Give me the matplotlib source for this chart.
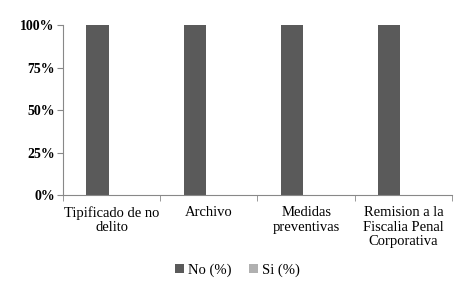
import matplotlib.pyplot as plt
import numpy as np

plt.rcParams['font.family'] = ['Liberation Serif', 'DejaVu Serif']

categories = ['Tipificado de no\ndelito', 'Archivo', 'Medidas\npreventivas',
              'Remision a la\nFiscalia Penal\nCorporativa']
no_pct = [100, 100, 100, 100]
si_pct = [0, 0, 0, 0]

fig = plt.figure(figsize=(4.75, 2.86), dpi=100)
ax = fig.add_axes([0.1326, 0.318, 0.819, 0.5946])

ind = np.arange(len(categories))
width = 0.23
off = 0.145
ax.bar(ind - off, no_pct, width, color='#5a5a5a', label='No (%)')
ax.bar(ind + off, si_pct, width, color='#b0b0b0', label='Si (%)')

ax.set_xlim(-0.5, len(categories) - 0.5)
ax.set_ylim(0, 100)
ax.set_yticks([0, 25, 50, 75, 100])
ax.set_yticklabels(['0%', '25%', '50%', '75%', '100%'], fontsize=10, fontweight='bold')
ax.set_xticks(ind)
ax.set_xticklabels(categories, fontsize=10.5, linespacing=1.15)
ax.set_xticks(np.arange(len(categories) + 1) - 0.5, minor=True)
ax.tick_params(axis='x', which='major', length=0, pad=8)
ax.tick_params(axis='x', which='minor', length=4, color='#888888', direction='out')
ax.tick_params(axis='y', length=4, color='#888888', direction='out', pad=2)

for s in ['top', 'right']:
    ax.spines[s].set_visible(False)
for s in ['left', 'bottom']:
    ax.spines[s].set_color('#888888')

fig.legend(loc='center', bbox_to_anchor=(0.5, 0.056), ncol=2, frameon=False,
           fontsize=10.5, handlelength=0.6, handleheight=0.6, handletextpad=0.3,
           columnspacing=1.2)

plt.savefig('out.png', dpi=100)
